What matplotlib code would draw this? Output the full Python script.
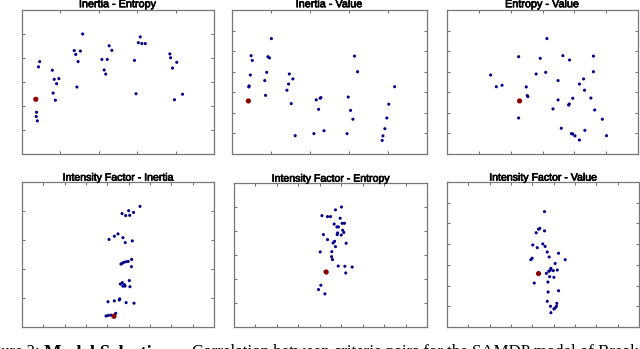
import numpy as np
import matplotlib
matplotlib.use('Agg')
import matplotlib.pyplot as plt
import matplotlib.patheffects as pe

# (title, x, y, red point) for each panel
t1 = 'Inertia - Entropy'
x1 = [1.58, 3.08, 3.03, 3.12, 3.21, 1.36, 1.52, 1.40, 2.27, 2.34, 3.85, 3.87, 2.08, 2.22,
      2.93, 1.46, 4.03, 0.46, 0.43, 3.92, 0.79, 2.14, 2.18, 0.84, 0.96, 0.90, 1.43, 0.81,
      2.97, 4.18, 0.87, 3.97, 0.38, 0.37, 0.40]
y1 = [5.00, 4.88, 4.64, 4.60, 4.60, 4.31, 4.29, 4.15, 4.51, 4.32, 4.17, 4.01, 3.94, 3.94,
      3.90, 3.85, 3.82, 3.85, 3.63, 3.58, 3.49, 3.50, 3.33, 3.11, 3.14, 2.93, 2.79, 2.54,
      2.51, 2.49, 2.24, 2.26, 1.74, 1.56, 1.38]
red1 = (0.36, 2.28)

t2 = 'Inertia - Value'
x2 = [1.01, 0.49, 0.52, 0.92, 0.96, 3.14, 0.47, 0.89, 1.47, 3.22, 0.84, 1.56, 0.44, 0.43,
      1.45, 4.17, 1.41, 0.86, 2.28, 2.26, 2.98, 2.16, 1.52, 4.02, 2.22, 3.04, 3.97, 3.10,
      3.92, 2.36, 2.10, 2.95, 1.62, 3.87, 3.85]
y2 = [5.61, 4.78, 4.55, 4.73, 4.67, 4.76, 3.84, 3.97, 3.89, 4.00, 3.57, 3.65, 3.31, 3.26,
      3.40, 3.27, 3.10, 2.85, 2.74, 2.71, 2.77, 2.63, 2.45, 2.42, 2.17, 2.12, 1.75, 1.69,
      1.23, 1.13, 0.99, 0.99, 0.89, 0.88, 0.66]
red2 = (0.42, 2.58)

t3 = 'Entropy - Value'
x3 = [3.14, 2.25, 2.93, 3.64, 3.85, 4.60, 1.37, 2.80, 3.10, 4.60, 1.55, 1.73, 3.49, 4.29,
      4.16, 2.49, 2.52, 2.54, 4.32, 4.52, 3.95, 3.49, 3.84, 3.82, 3.33, 4.64, 2.25, 4.88,
      3.59, 4.33, 3.91, 3.95, 4.02, 5.01, 4.16]
y3 = [5.61, 4.73, 4.65, 4.78, 4.57, 4.76, 3.84, 3.89, 3.97, 4.00, 3.27, 3.34, 3.57, 3.65,
      3.40, 3.26, 2.84, 2.79, 3.10, 2.72, 2.71, 2.63, 2.43, 2.38, 2.19, 2.14, 1.75, 1.69,
      1.25, 1.15, 0.99, 0.97, 0.88, 0.89, 0.68]
red3 = (2.28, 2.58)

t4 = 'Intensity Factor - Inertia'
x4 = [5.53, 5.00, 5.23, 4.69, 4.86, 5.05, 4.50, 4.33, 4.73, 4.08, 5.17, 4.84, 5.14, 4.98,
      4.88, 4.77, 4.70, 4.64, 5.13, 5.03, 4.70, 4.61, 4.80, 4.73, 4.83, 5.06, 4.58, 4.56,
      4.33, 4.03, 4.88, 5.25, 4.39, 4.17, 4.05, 3.94]
y4 = [4.16, 4.01, 3.95, 3.91, 3.84, 3.85, 3.21, 3.13, 3.08, 3.02, 2.97, 2.91, 2.33, 2.26,
      2.25, 2.23, 2.20, 2.17, 2.08, 1.60, 1.53, 1.48, 1.46, 1.41, 1.41, 1.39, 0.97, 0.93,
      0.90, 0.87, 0.84, 0.82, 0.47, 0.41, 0.40, 0.38]
red4 = (4.31, 0.37)

t5 = 'Intensity Factor - Entropy'
x5 = [5.01, 4.73, 4.10, 4.36, 4.50, 4.95, 4.67, 5.04, 5.15, 4.80, 4.87, 5.07, 5.12, 4.83,
      4.81, 5.00, 4.17, 4.36, 4.69, 4.62, 5.23, 4.73, 4.02, 4.56, 4.55, 4.59, 4.86, 5.17,
      5.51, 5.21, 4.25, 4.05, 3.94, 4.24]
y5 = [5.00, 4.88, 4.64, 4.60, 4.60, 4.53, 4.29, 4.32, 4.32, 4.17, 4.17, 4.03, 3.94, 3.92,
      3.85, 3.83, 3.85, 3.64, 3.57, 3.50, 3.49, 3.35, 3.13, 3.14, 2.93, 2.81, 2.54, 2.53,
      2.50, 2.25, 2.31, 1.74, 1.56, 1.38]
red5 = (4.30, 2.29)

t6 = 'Intensity Factor - Value'
x6 = [4.57, 4.35, 4.29, 4.18, 4.57, 4.02, 4.23, 4.49, 4.60, 4.70, 4.79, 5.23, 3.99, 3.93,
      5.54, 5.07, 4.87, 4.84, 4.98, 4.77, 5.17, 4.66, 4.81, 5.01, 4.09, 4.73, 4.74, 5.23,
      4.70, 5.15, 4.85, 5.13, 5.07, 5.01, 4.87]
y6 = [5.57, 4.76, 4.72, 4.55, 4.64, 3.96, 3.83, 4.01, 3.89, 3.62, 3.38, 3.56, 3.32, 3.25,
      3.25, 3.07, 2.83, 2.74, 2.72, 2.69, 2.75, 2.59, 2.43, 2.40, 2.12, 2.17, 1.69, 1.75,
      1.24, 1.14, 1.00, 1.00, 0.92, 0.87, 0.69]
red6 = (4.29, 2.58)

# axis ranges (x max, y max), ticks every unit
xmax = [5, 5, 6, 9, 9, 9]
ymax = [6, 7, 7, 5, 6, 7]

W, H = 640, 349
boxes = [(22, 10, 214, 154), (232, 10, 427, 154), (447, 10, 638, 154),
         (22, 182, 214, 327), (234, 183, 427, 327), (447, 182, 639, 327)]

fig = plt.figure(figsize=(W / 100, H / 100), dpi=100)
panels = [(t1, x1, y1, red1), (t2, x2, y2, red2), (t3, x3, y3, red3),
          (t4, x4, y4, red4), (t5, x5, y5, red5), (t6, x6, y6, red6)]

for i, (title, xs, ys, red) in enumerate(panels):
    l, t, r, b = boxes[i]
    ax = fig.add_axes([l / W, 1 - b / H, (r - l) / W, (b - t) / H])
    ax.scatter(xs, ys, s=5, color='#00008b', edgecolors='none', zorder=3)
    ax.scatter([red[0]], [red[1]], s=14, color='#8b0000', edgecolors='none', zorder=4)
    ax.set_xlim(0, xmax[i])
    ax.set_ylim(0, ymax[i])
    ax.set_xticks(np.arange(1, xmax[i]))
    ax.set_yticks(np.arange(1, ymax[i]))
    ax.tick_params(direction='in', length=2, width=0.6, color='#555555',
                   top=True, right=True, labelbottom=False, labelleft=False)
    for sp in ax.spines.values():
        sp.set_color('#777777')
        sp.set_linewidth(0.9)
    fs = 7.8 if i < 3 else 7.6
    pad = 2 if i < 3 else 1.0
    tt = ax.set_title(title, fontsize=fs, family='Liberation Sans', y=1.0, pad=pad)
    tt.set_path_effects([pe.withStroke(linewidth=0.5, foreground='black')])

# caption, cut by the bottom edge like in the source
fig.text(-21 / W, 1 - 356.5 / H, 'Figure 2:', fontsize=12, family='Liberation Serif',
         va='baseline')
fig.text(44 / W, 1 - 357.5 / H, 'Model Selection.', fontsize=13.5, family='Liberation Serif',
         weight='bold', va='baseline')
fig.text(192 / W, 1 - 356.5 / H,
         'Correlation between criteria pairs for the SAMDP model of Breakout',
         fontsize=12.2, family='Liberation Serif', va='baseline')

fig.savefig('out.png', dpi=100)
